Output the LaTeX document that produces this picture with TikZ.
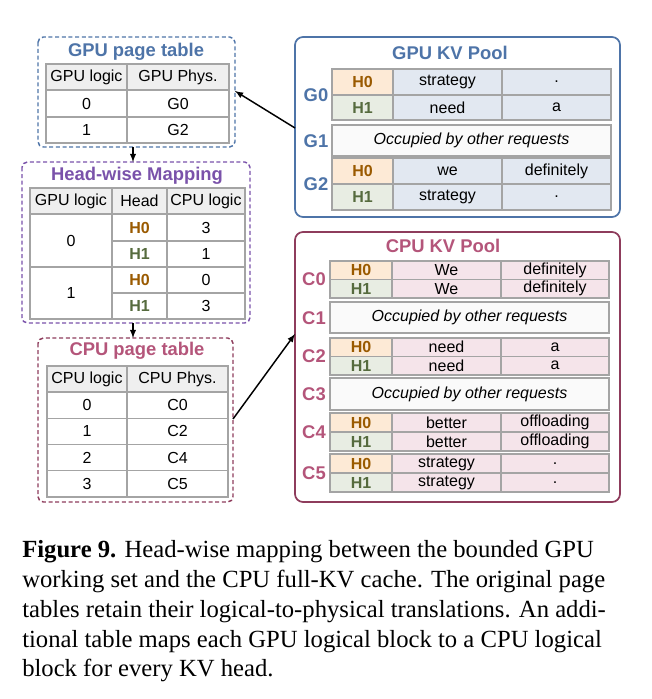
\documentclass[tikz,border=0pt]{standalone}
\usepackage{fontspec}
\setmainfont{Liberation Sans}
\newfontfamily\capfont{Liberation Serif}
\definecolor{gpub}{HTML}{4E74A8}
\definecolor{hwp}{HTML}{7A52AA}
\definecolor{cpur}{HTML}{B4557A}
\definecolor{cpub}{HTML}{8E3C5C}
\definecolor{grid}{HTML}{A4A4A4}
\definecolor{gfill}{HTML}{E2E8F1}
\definecolor{cfill}{HTML}{F5E4EA}
\definecolor{hzf}{HTML}{FDEAD6}
\definecolor{hzt}{HTML}{9A5A00}
\definecolor{hof}{HTML}{E8EDE3}
\definecolor{hot}{HTML}{566B3E}
\definecolor{hdr}{HTML}{EFEFEF}
\definecolor{occ}{HTML}{FAFAFA}
\newcommand\cellbox[6]{\filldraw[fill=#5,draw=grid,line width=0.9pt] (#1,#2) rectangle (#3,#4); \node[txt] at ({(#1+#3)/2},{(#2+#4)/2}) {#6};}
\newcommand\hz{\textcolor{hzt}{\bfseries H0}}
\newcommand\ho{\textcolor{hot}{\bfseries H1}}
\begin{document}
\begin{tikzpicture}[x=0.75pt,y=-0.75pt,
  txt/.style={font=\fontsize{12}{14}\selectfont,inner sep=0pt},
  ttl/.style={font=\fontsize{13.8}{16}\bfseries\selectfont,inner sep=0pt},
  dbox/.style={dashed,dash pattern=on 3pt off 2pt,line width=1.1pt,rounded corners=4pt},
  sbox/.style={line width=1.3pt,rounded corners=6pt},
  arr/.style={-latex,line width=1.1pt},
  capl/.style={anchor=base west,inner sep=0pt,text width=608*0.75pt,align=justify,
    font=\capfont\fontsize{18.5}{22}\selectfont}]
\useasboundingbox (0,0) rectangle (651,699);
% GPU page table
\draw[dbox,draw=gpub] (38,37) rectangle (235,147);
\coordinate (gpt-r) at (235,91); \coordinate (gpt-b) at (133,147);
\node[ttl,text=gpub] (gptt) at (136,52) {GPU page table};
\cellbox{46}{64}{127}{90}{hdr}{GPU logic}
\cellbox{127}{64}{229}{90}{hdr}{GPU Phys.}
\cellbox{46}{90}{127}{117}{white}{0}
\cellbox{127}{90}{229}{117}{white}{G0}
\cellbox{46}{117}{127}{143}{white}{1}
\cellbox{127}{117}{229}{143}{white}{G2}
% Head-wise
\draw[dbox,draw=hwp] (22,162) rectangle (250,323);
\coordinate (hw-t) at (133,162); \coordinate (hw-b) at (133,323);
\node[ttl,text=hwp] (hwt) at (137,176) {Head-wise Mapping};
\cellbox{30}{188}{112}{214}{hdr}{GPU logic}
\cellbox{112}{188}{167}{214}{hdr}{Head}
\cellbox{167}{188}{245}{214}{hdr}{CPU logic}
\cellbox{30}{214}{112}{267}{white}{0}
\cellbox{30}{267}{112}{319}{white}{1}
\cellbox{112}{214}{167}{241}{white}{\hz}
\cellbox{112}{241}{167}{267}{white}{\ho}
\cellbox{112}{267}{167}{293}{white}{\hz}
\cellbox{112}{293}{167}{319}{white}{\ho}
\cellbox{167}{214}{245}{241}{white}{3}
\cellbox{167}{241}{245}{267}{white}{1}
\cellbox{167}{267}{245}{293}{white}{0}
\cellbox{167}{293}{245}{319}{white}{3}
% CPU page table
\draw[dbox,draw=cpub] (38,338) rectangle (233,502);
\coordinate (cpt-t) at (133,338); \coordinate (cpt-r) at (233,419);
\node[ttl,text=cpur] (cptt) at (137,351) {CPU page table};
\cellbox{47}{366}{127}{392}{hdr}{CPU logic}
\cellbox{127}{366}{228}{392}{hdr}{CPU Phys.}
\foreach \a/\b [count=\i from 0] in {0/C0,1/C2,2/C4,3/C5}{
  \cellbox{47}{392+26.25*\i}{127}{418.25+26.25*\i}{white}{\a}
  \cellbox{127}{392+26.25*\i}{228}{418.25+26.25*\i}{white}{\b}
}
% GPU KV pool
\draw[sbox,draw=gpub] (295,37) rectangle (620,217);
\coordinate (gkv-l) at (295,128);
\node[ttl,text=gpub] (gkvt) at (450,53) {GPU KV Pool};
\newcommand\gpair[7]{%
  \cellbox{332}{#1}{393}{#2}{hzf}{\hz}\cellbox{393}{#1}{502}{#2}{gfill}{#4}\cellbox{502}{#1}{611}{#2}{gfill}{#5}
  \cellbox{332}{#2}{393}{#3}{hof}{\ho}\cellbox{393}{#2}{502}{#3}{gfill}{#6}\cellbox{502}{#2}{611}{#3}{gfill}{#7}}
\gpair{69}{95}{120}{strategy}{.}{need}{a}
\cellbox{332}{125}{611}{156}{occ}{\itshape Occupied by other requests}
\gpair{158}{184}{210}{we}{definitely}{strategy}{.}
\node[ttl,text=gpub] (g0) at (316,95) {G0};
\node[ttl,text=gpub] (g1) at (316,141) {G1};
\node[ttl,text=gpub] (g2) at (316,184) {G2};
% CPU KV pool
\draw[sbox,draw=cpub] (295,232) rectangle (620,502);
\coordinate (ckv-l) at (295,334);
\node[ttl,text=cpur] (ckvt) at (443,246) {CPU KV Pool};
\newcommand\cpair[5]{%
  \cellbox{330}{#1}{392}{#2}{hzf}{\hz}\cellbox{392}{#1}{501}{#2}{cfill}{#4}\cellbox{501}{#1}{609}{#2}{cfill}{#5}
  \cellbox{330}{#2}{392}{#3}{hof}{\ho}\cellbox{392}{#2}{501}{#3}{cfill}{#4}\cellbox{501}{#2}{609}{#3}{cfill}{#5}}
\cpair{261}{279.5}{298}{We}{definitely}
\cellbox{330}{302}{609}{333}{occ}{\itshape Occupied by other requests}
\cpair{338}{356.5}{375}{need}{a}
\cellbox{330}{378}{609}{410}{occ}{\itshape Occupied by other requests}
\cpair{413}{432}{451}{better}{offloading}
\cpair{454}{473}{492}{strategy}{.}
\foreach \l/\y in {C0/279,C1/318,C2/356,C3/394,C4/432,C5/473}
  \node[ttl,text=cpur] (\l) at (314,\y) {\l};
% arrows
\draw[arr] (gkv-l) -- (gpt-r);
\draw[arr] (gpt-b) -- (hw-t);
\draw[arr] (hw-b) -- (cpt-t);
\draw[arr] (cpt-r) -- (ckv-l);
% caption
\node[capl] (cap1) at (22,557) {\parfillskip=0pt \textbf{Figure 9.} Head-wise mapping between the bounded GPU};
\node[capl] (cap2) at (22,587) {\parfillskip=0pt working set and the CPU full-KV cache. The original page};
\node[capl] (cap3) at (22,617) {\parfillskip=0pt tables retain their logical-to-physical translations. An addi-};
\node[capl] (cap4) at (22,647) {\parfillskip=0pt tional table maps each GPU logical block to a CPU logical};
\node[capl] (cap5) at (22,676) {block for every KV head.};
\end{tikzpicture}
\end{document}
